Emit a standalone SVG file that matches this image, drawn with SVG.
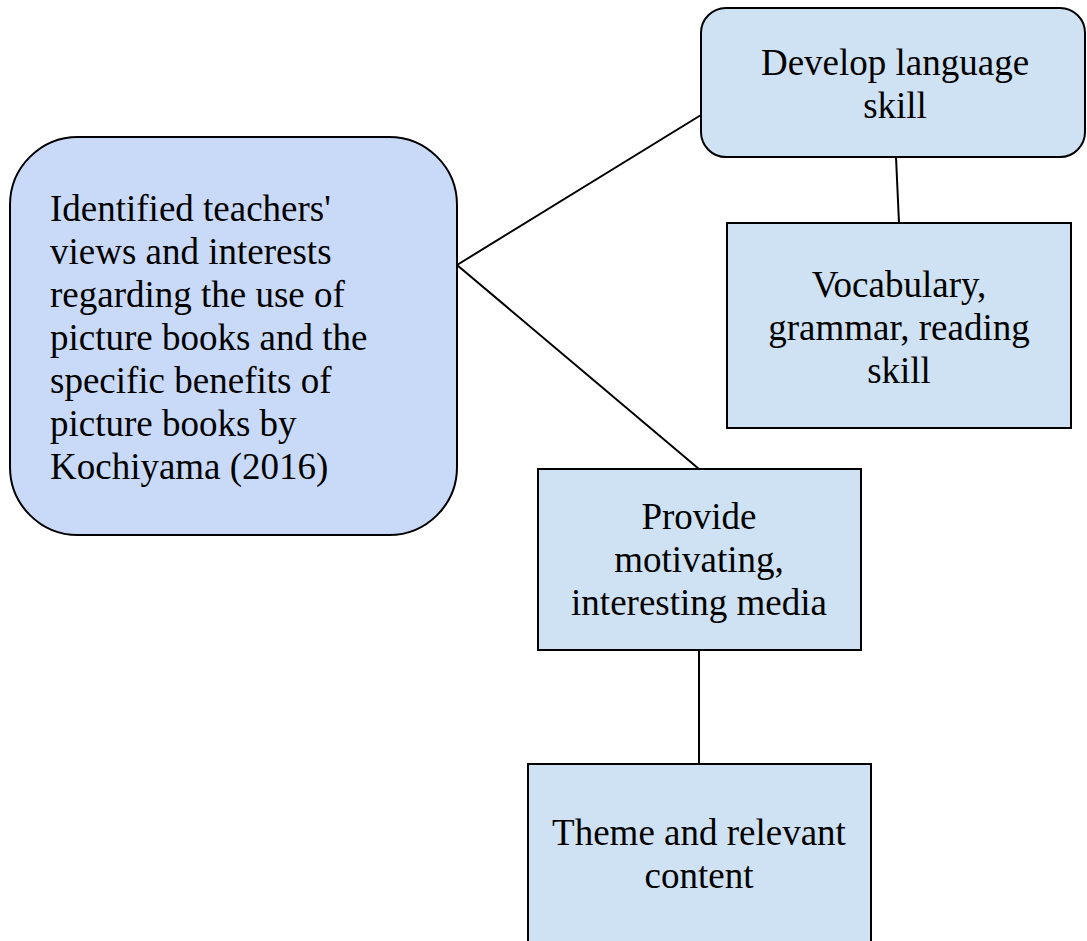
<svg xmlns="http://www.w3.org/2000/svg" width="1087" height="941" viewBox="0 0 1087 941">
<style>
.n{stroke:#000;stroke-width:2}
.a{fill:#c9daf8}
.b{fill:#cfe2f3}
text{font-family:"Liberation Serif","Times New Roman",serif;font-size:37px;fill:#000}
.c{text-anchor:middle}
.e{stroke:#000;stroke-width:2;fill:none}
</style>
<rect width="1087" height="941" fill="#fff"/>
<g id="connectors">
<line class="e" x1="457" y1="265" x2="701" y2="115"/>
<line class="e" x1="457" y1="265" x2="699" y2="469"/>
<line class="e" x1="896" y1="157" x2="899" y2="223"/>
<line class="e" x1="699" y1="650" x2="699" y2="764"/>
</g>
<g id="main">
<rect class="n a" x="10" y="137" width="447" height="398" rx="68"/>
<text x="50" y="221">Identified teachers'</text>
<text x="50" y="264">views and interests</text>
<text x="50" y="307">regarding the use of</text>
<text x="50" y="350">picture books and the</text>
<text x="50" y="393">specific benefits of</text>
<text x="50" y="436">picture books by</text>
<text x="50" y="479">Kochiyama (2016)</text>
</g>
<g id="develop">
<rect class="n b" x="701" y="8" width="384" height="149" rx="25"/>
<text class="c" x="895" y="75">Develop language</text>
<text class="c" x="895" y="118">skill</text>
</g>
<g id="vocabulary">
<rect class="n b" x="727" y="223" width="344" height="205"/>
<text class="c" x="899" y="297">Vocabulary,</text>
<text class="c" x="899" y="340">grammar, reading</text>
<text class="c" x="899" y="383">skill</text>
</g>
<g id="provide">
<rect class="n b" x="538" y="469" width="323" height="181"/>
<text class="c" x="699" y="529">Provide</text>
<text class="c" x="699" y="572">motivating,</text>
<text class="c" x="699" y="615">interesting media</text>
</g>
<g id="theme">
<rect class="n b" x="528" y="764" width="343" height="190"/>
<text class="c" x="699" y="845">Theme and relevant</text>
<text class="c" x="699" y="888">content</text>
</g>
</svg>
